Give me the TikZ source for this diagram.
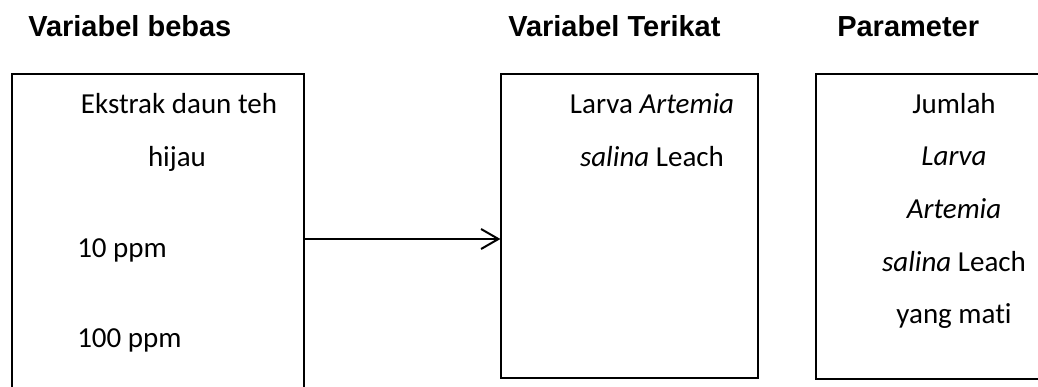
\documentclass[tikz,border=0pt]{standalone}
\usepackage{fontspec}
\setmainfont{Carlito}[Ligatures=NoCommon]
\newfontfamily\judulfont{Liberation Sans}
\usetikzlibrary{arrows.meta,positioning}

\begin{document}
\begin{tikzpicture}[x=0.75pt,y=-0.75pt,
  every node/.style={inner sep=0pt,font=\fontsize{21.75}{26}\selectfont},
  judul/.style={anchor=base west,font=\judulfont\bfseries\fontsize{21.75}{26}\selectfont},
  kotak/.style={draw,line width=0.9pt},
  isi/.style={anchor=base}]
\useasboundingbox (0,0) rectangle (1038,386);
% judul kolom
\node[judul] (jBebas) at (28,36) {Variabel bebas};
\node[judul] (jTerikat) at (508,36) {Variabel Terikat};
\node[judul] (jParam) at (837,36) {Parameter};
% kotak
\node[kotak,minimum width=219pt,minimum height=247.5pt] (bebas) at (158,239) {};
\node[kotak,minimum width=192.75pt,minimum height=228pt] (terikat) at (629.5,226) {};
\node[kotak,minimum width=207pt,minimum height=228.75pt] (param) at (954,226.5) {};
% isi variabel bebas
\node[isi] (b1) at (179,113) {Ekstrak daun teh};
\node[isi] (b2) at (177,166) {hijau};
\node[anchor=base west] (b3) at (77,257) {10 ppm};
\node[anchor=base west] (b4) at (77,347) {100 ppm};
% isi variabel terikat
\node[isi] (t1) at (652,113) {Larva \textit{Artemia}};
\node[isi] (t2) at (652,166) {\textit{salina} Leach};
% isi parameter
\node[isi] (p1) at (954,113) {Jumlah};
\node[isi] (p2) at (954,165) {\textit{Larva}};
\node[isi] (p3) at (954,218) {\textit{Artemia}};
\node[isi] (p4) at (954,271) {\textit{salina} Leach};
\node[isi] (p5) at (954,323) {yang mati};
\draw[line width=1.5pt,-{Straight Barb[length=13pt,width=15pt]}] (bebas.east) -- (bebas.east -| terikat.west);
\end{tikzpicture}
\end{document}
